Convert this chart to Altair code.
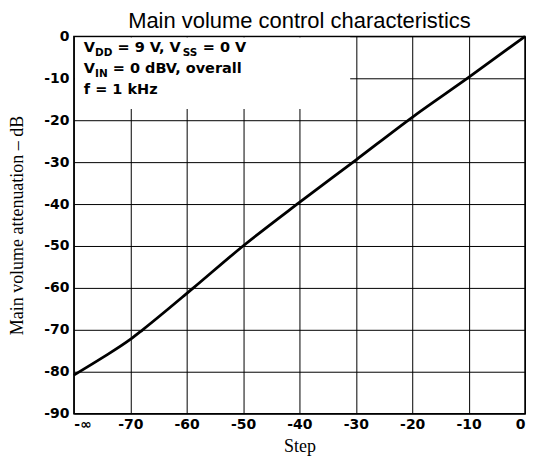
import altair as alt
import pandas as pd

# ---- data ----
steps = [-80, -75, -70, -67.8, -58.8, -50, -40, -30, -20, -10, 0]
atten = [-80.8, -76.7, -72.3, -70.0, -60.0, -50.0, -39.6, -29.5, -19.3, -9.8, 0.0]
x_ticks = [-80, -70, -60, -50, -40, -30, -20, -10, 0]
y_ticks = [-90, -80, -70, -60, -50, -40, -30, -20, -10, 0]

# annotation box (data coords) and the text pieces (line, text, subscript?)
box_x = [-79.8, -31]
box_y = [-0.25, -17.3]
note_lines = [
    [("V", False), ("DD", True), (" = 9 V, V", False), ("SS", True), (" = 0 V", False)],
    [("V", False), ("IN", True), (" = 0 dBV, overall", False)],
    [("f = 1 kHz", False)],
]

W, H = 452, 378
MAIN, SUB = 14.5, 10.5
WID = {'V': .774, 'D': .830, 'S': .720, 'I': .372, 'N': .837, ' ': .348, '=': .838, ',': .381,
       'd': .716, 'B': .762, 'o': .687, 'v': .652, 'e': .678, 'r': .493, 'a': .675, 'l': .343,
       'f': .435, 'k': .665, 'H': .837, 'z': .582}


def tw(s, size):
    return sum(WID.get(c, .696) for c in s) * size


rows = []
for li, frags in enumerate(note_lines):
    xoff = 10.0
    base = 16 + 21 * li
    for txt, sub in frags:
        size = SUB if sub else MAIN
        lead = len(txt) - len(txt.lstrip(' '))
        xoff += tw(' ' * lead, size)
        t = txt.strip()
        py = base + (4 if sub else 0)
        rows.append({"t": t, "tx": -80 + xoff * 80 / W, "ty": -py * 90 / H, "fs": size})
        xoff += tw(t, size)
frag_df = pd.DataFrame(rows)

line_df = pd.DataFrame({"step": steps, "att": atten})
box_df = pd.DataFrame({"x0": [box_x[0]], "x1": [box_x[1]], "y0": [box_y[0]], "y1": [box_y[1]]})

xscale = alt.Scale(domain=[-80, 0], nice=False, zero=False)
yscale = alt.Scale(domain=[-90, 0], nice=False, zero=False)

label_expr = "datum.value == 0 ? '0' : '-' + abs(datum.value)"

x_axis = alt.Axis(values=x_ticks, grid=True, ticks=False, domain=False,
                  labelExpr="datum.value == -80 ? '-\u221e' : (" + label_expr + ")",
                  labelFont="DejaVu Sans", labelFontWeight="bold", labelFontSize=14,
                  labelColor="black", labelPadding=4,
                  title="Step", titleFont="Liberation Serif", titleFontSize=18,
                  titleFontWeight="normal", titleColor="black", titlePadding=6)
y_axis = alt.Axis(values=y_ticks, grid=True, ticks=False, domain=False,
                  labelExpr=label_expr,
                  labelFont="DejaVu Sans", labelFontWeight="bold", labelFontSize=14,
                  labelColor="black", labelPadding=5,
                  title="Main volume attenuation \u2013 dB", titleFont="Liberation Serif",
                  titleFontSize=18, titleFontWeight="normal", titleColor="black",
                  titlePadding=17)

X = lambda f: alt.X(f, scale=xscale, axis=x_axis)
Y = lambda f: alt.Y(f, scale=yscale, axis=y_axis)

line = alt.Chart(line_df).mark_line(color="black", strokeWidth=2.8, interpolate="monotone").encode(
    x=X("step:Q"), y=Y("att:Q"))

box = alt.Chart(box_df).mark_rect(color="white", opacity=1).encode(
    x=X("x0:Q"), x2="x1:Q", y=Y("y0:Q"), y2="y1:Q")

text_main = alt.Chart(frag_df[frag_df.fs == MAIN]).mark_text(
    align="left", baseline="alphabetic", font="DejaVu Sans", fontWeight="bold",
    fontSize=MAIN, color="black").encode(x=X("tx:Q"), y=Y("ty:Q"), text="t:N")

text_sub = alt.Chart(frag_df[frag_df.fs == SUB]).mark_text(
    align="left", baseline="alphabetic", font="DejaVu Sans", fontWeight="bold",
    fontSize=SUB, color="black").encode(x=X("tx:Q"), y=Y("ty:Q"), text="t:N")

chart = alt.layer(box, line, text_main, text_sub).properties(
    width=W, height=H,
    background="white",
    padding={"left": 0, "top": 2, "right": 0, "bottom": 0},
    title=alt.TitleParams("Main volume control characteristics", font="Liberation Sans",
                          fontSize=22, fontWeight="normal", color="black", offset=-4,
                          anchor="middle"),
).configure_view(stroke="black", strokeWidth=1.5).configure_axis(
    gridColor="black", gridOpacity=1, gridWidth=1
)

chart.save("out.html", embed_options={"renderer": "svg", "actions": False})
